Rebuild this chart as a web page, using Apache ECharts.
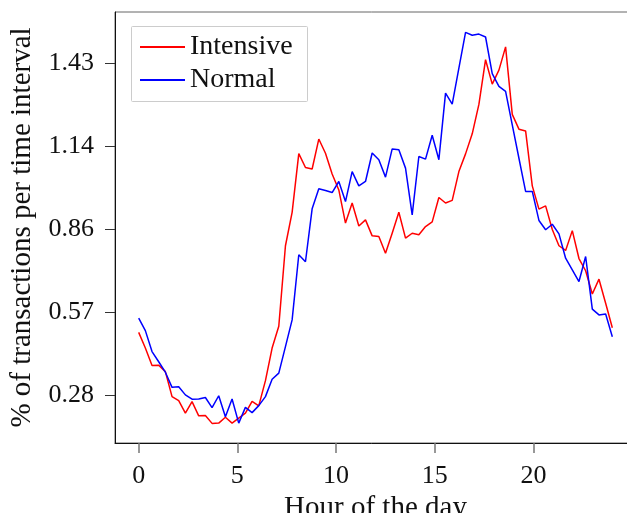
<!DOCTYPE html>
<html>
<head>
<meta charset="utf-8">
<script src="https://cdn.jsdelivr.net/npm/echarts@6/dist/echarts.min.js"></script>
<style>html,body{margin:0;padding:0;background:#fff;}#c{width:627px;height:513px;}</style>
</head>
<body>
<div id="c"></div>
<script>
const hours = [0, 0.338, 0.676, 1.014, 1.352, 1.690, 2.028, 2.366, 2.704, 3.042, 3.380, 3.718,
  4.056, 4.394, 4.732, 5.070, 5.408, 5.746, 6.085, 6.423, 6.761, 7.099, 7.437, 7.775,
  8.113, 8.451, 8.789, 9.127, 9.465, 9.803, 10.141, 10.479, 10.817, 11.155, 11.493, 11.831,
  12.169, 12.507, 12.845, 13.183, 13.521, 13.859, 14.197, 14.535, 14.873, 15.211, 15.549, 15.887,
  16.225, 16.563, 16.901, 17.239, 17.577, 17.915, 18.254, 18.592, 18.930, 19.268, 19.606, 19.944,
  20.282, 20.620, 20.958, 21.296, 21.634, 21.972, 22.310, 22.648, 22.986, 23.324, 23.662, 24.000];
const intensive = [0.502, 0.448, 0.388, 0.389, 0.367, 0.281, 0.267, 0.224, 0.264, 0.215, 0.216, 0.189,
  0.190, 0.210, 0.190, 0.207, 0.224, 0.265, 0.249, 0.336, 0.448, 0.523, 0.800, 0.915,
  1.117, 1.069, 1.064, 1.167, 1.118, 1.047, 0.992, 0.878, 0.947, 0.868, 0.889, 0.834,
  0.832, 0.774, 0.843, 0.915, 0.826, 0.843, 0.838, 0.866, 0.882, 0.966, 0.947, 0.956,
  1.055, 1.116, 1.185, 1.286, 1.440, 1.356, 1.404, 1.484, 1.252, 1.201, 1.195, 1.006,
  0.926, 0.937, 0.856, 0.800, 0.784, 0.852, 0.756, 0.714, 0.634, 0.685, 0.602, 0.518];
const normal = [0.551, 0.508, 0.436, 0.401, 0.365, 0.313, 0.315, 0.287, 0.272, 0.273, 0.278, 0.243,
  0.284, 0.212, 0.273, 0.190, 0.244, 0.226, 0.250, 0.281, 0.341, 0.362, 0.453, 0.545,
  0.769, 0.745, 0.927, 0.996, 0.990, 0.983, 1.021, 0.952, 1.055, 1.006, 1.021, 1.119,
  1.096, 1.036, 1.133, 1.130, 1.067, 0.906, 1.107, 1.098, 1.180, 1.096, 1.325, 1.287,
  1.411, 1.534, 1.524, 1.528, 1.518, 1.392, 1.348, 1.331, 1.216, 1.101, 0.987, 0.987,
  0.887, 0.855, 0.874, 0.841, 0.757, 0.717, 0.677, 0.763, 0.582, 0.562, 0.565, 0.487];
const xTicks = [0, 5, 10, 15, 20];
const yTickValues = [0.2857, 0.5714, 0.8571, 1.1429, 1.4286];
const yTickLabels = ['0.28', '0.57', '0.86', '1.14', '1.43'];
const seriesNames = ['Intensive', 'Normal'];

const FONT = 'Liberation Serif';
const chart = echarts.init(document.getElementById('c'), null, {renderer: 'canvas'});
const pair = (xs, ys) => xs.map((x, i) => [x, ys[i]]);
chart.setOption({
  animation: false,
  backgroundColor: '#fff',
  grid: {left: 115, top: 12, width: 521, height: 431, outerBoundsMode: 'none', containLabel: false,
    show: true, borderColor: '#666', borderWidth: 1, backgroundColor: 'transparent'},
  graphic: [{type: 'rect', z: 3, shape: {x: 131.5, y: 26.5, width: 176, height: 75, r: 1},
    style: {fill: '#fff', stroke: '#ccc', lineWidth: 1}}],
  legend: {
    orient: 'vertical', left: 140, top: 33, padding: 0, itemGap: 5,
    itemWidth: 45, itemHeight: 2, icon: 'rect', z: 5,
    textStyle: {fontFamily: FONT, fontSize: 28, color: '#111', lineHeight: 28},
    data: seriesNames
  },
  xAxis: {
    type: 'value', min: -1.2, max: 25.2,
    name: 'Hour of the day', nameLocation: 'middle', nameGap: 40,
    nameTextStyle: {fontFamily: FONT, fontSize: 29, color: '#111', verticalAlign: 'top'},
    axisLine: {show: true, onZero: false, lineStyle: {color: '#111', width: 1}},
    axisTick: {show: true, customValues: xTicks, length: 10, lineStyle: {color: '#777', width: 1.5}},
    axisLabel: {customValues: xTicks, margin: 20, fontFamily: FONT, fontSize: 26, color: '#111'},
    splitLine: {show: false}
  },
  yAxis: {
    type: 'value', min: 0.1215, max: 1.604,
    name: '% of transactions per time interval', nameLocation: 'middle', nameGap: 78, nameRotate: 90,
    nameTextStyle: {fontFamily: FONT, fontSize: 29, color: '#111'},
    axisLine: {show: true, onZero: false, lineStyle: {color: '#111', width: 1}},
    axisTick: {show: true, customValues: yTickValues, length: 10, lineStyle: {color: '#333', width: 1}},
    axisLabel: {customValues: yTickValues, margin: 21, fontFamily: FONT, fontSize: 26, color: '#111',
      formatter: v => { const k = yTickValues.findIndex(t => Math.abs(t - v) < 1e-3); return k >= 0 ? yTickLabels[k] : ''; }},
    splitLine: {show: false}
  },
  series: [
    {name: seriesNames[0], type: 'line', data: pair(hours, intensive), symbol: 'none', color: '#ff0000',
      lineStyle: {width: 1.5, color: '#ff0000'}, z: 2},
    {name: seriesNames[1], type: 'line', data: pair(hours, normal), symbol: 'none', color: '#0000ff',
      lineStyle: {width: 1.5, color: '#0000ff'}, z: 2}
  ]
});
</script>
</body>
</html>
